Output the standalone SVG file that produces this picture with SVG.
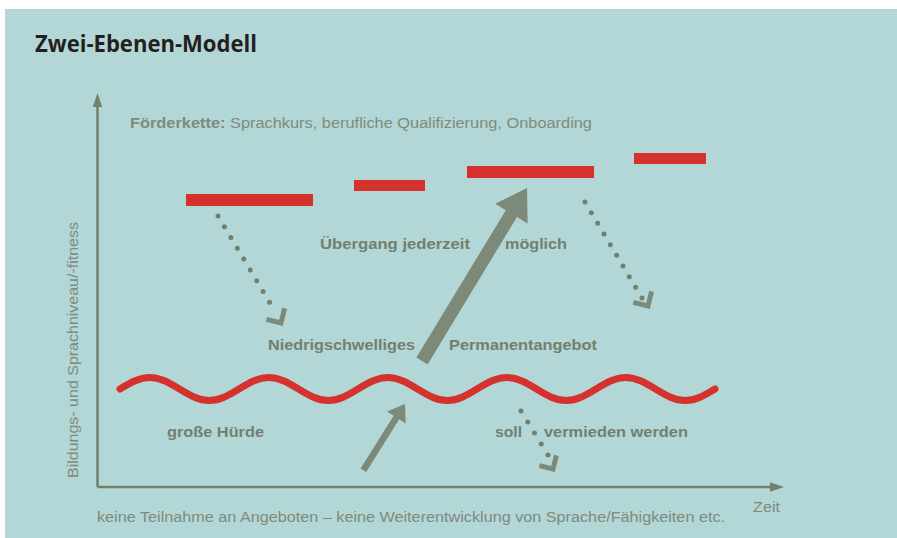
<svg xmlns="http://www.w3.org/2000/svg" width="897" height="538" viewBox="0 0 897 538">
<style>
.bg{fill:#b2d7d6}
.title{font-family:"Open Sans","Liberation Sans",sans-serif;font-weight:700;font-size:23px;fill:#231f20}
.lbl{font-family:"Liberation Sans",Arial,sans-serif;font-weight:700;font-size:15px;fill:#737f6e}
.reg{font-family:"Liberation Sans",Arial,sans-serif;font-size:14px;fill:#7e8b7c}
.bar{fill:#d6322d}
.wave{fill:none;stroke:#d6322d;stroke-width:7;stroke-linecap:round}
.axis{stroke:#72806c;stroke-width:2.5;fill:none}
.axhead{fill:#72806c}
.big{fill:#7d8a7a}
.dots{fill:none;stroke:#72806c;stroke-width:5;stroke-linecap:round}
.chev{fill:none;stroke:#7d8a7a;stroke-width:5;stroke-linejoin:miter;stroke-linecap:butt}
</style>
<rect class="bg" x="5" y="9" width="892" height="529"/>
<text class="title" x="35" y="52" textLength="222" lengthAdjust="spacingAndGlyphs">Zwei-Ebenen-Modell</text>

<g id="axes">
  <line class="axis" x1="97.5" y1="487" x2="97.5" y2="105"/>
  <polygon class="axhead" points="97.5,93 102.2,107 92.8,107"/>
  <line class="axis" x1="97.5" y1="487" x2="772" y2="487"/>
  <polygon class="axhead" points="784,487 770,482.3 770,491.7"/>
  <text class="reg" transform="translate(78,350) rotate(-90)" x="0" y="0" text-anchor="middle" font-size="12" textLength="256" lengthAdjust="spacingAndGlyphs">Bildungs- und Sprachniveau/-fitness</text>
  <text class="reg" x="753" y="512" textLength="27" lengthAdjust="spacingAndGlyphs">Zeit</text>
  <text class="reg" x="97" y="522" textLength="628" lengthAdjust="spacingAndGlyphs">keine Teilnahme an Angeboten – keine Weiterentwicklung von Sprache/Fähigkeiten etc.</text>
</g>

<g id="foerderkette">
  <text class="reg" x="130" y="128" textLength="462" lengthAdjust="spacingAndGlyphs"><tspan font-weight="700">Förderkette:</tspan> Sprachkurs, berufliche Qualifizierung, Onboarding</text>
  <rect class="bar" x="186" y="194" width="127" height="12"/>
  <rect class="bar" x="354" y="180" width="71" height="11"/>
  <rect class="bar" x="467" y="166" width="127" height="12"/>
  <rect class="bar" x="634" y="153" width="72" height="11"/>
</g>

<g id="uebergang">
  <text class="lbl" x="320" y="249" textLength="150" lengthAdjust="spacingAndGlyphs">Übergang jederzeit</text>
  <text class="lbl" x="505" y="249" textLength="62" lengthAdjust="spacingAndGlyphs">möglich</text>
</g>

<g id="permanentangebot">
  <text class="lbl" x="268" y="350" textLength="147" lengthAdjust="spacingAndGlyphs">Niedrigschwelliges</text>
  <text class="lbl" x="449" y="350" textLength="148" lengthAdjust="spacingAndGlyphs">Permanentangebot</text>
</g>

<g id="huerde">
  <path class="wave" d="M120,389 C129.7,383.11 138.98,377.5 149.75,377.5 S169.8,383.11 179.5,389 S198.48,400.5 209.25,400.5 S229.3,394.89 239,389 S257.98,377.5 268.75,377.5 S288.8,383.11 298.5,389 S317.48,400.5 328.25,400.5 S348.3,394.89 358,389 S376.98,377.5 387.75,377.5 S407.8,383.11 417.5,389 S436.48,400.5 447.25,400.5 S467.3,394.89 477,389 S495.98,377.5 506.75,377.5 S526.8,383.11 536.5,389 S555.48,400.5 566.25,400.5 S586.3,394.89 596,389 S614.98,377.5 625.75,377.5 S645.8,383.11 655.5,389 S674.48,400.5 685.25,400.5 S705.3,394.89 715,389"/>
  <text class="lbl" x="167" y="437" textLength="97" lengthAdjust="spacingAndGlyphs">große Hürde</text>
  <text class="lbl" x="495" y="437" textLength="27" lengthAdjust="spacingAndGlyphs">soll</text>
  <text class="lbl" x="544" y="437" textLength="144" lengthAdjust="spacingAndGlyphs">vermieden werden</text>
</g>

<g id="connectors">
  <polygon class="big" points="416.4,357.6 505.8,210.2 495.2,203.7 527,188 527.6,223.5 517,216.9 427.6,364.4"/>
  <polygon class="big" points="360.6,468.5 393.6,415.8 387.1,411.6 405,404 405.7,423.4 399.2,419.2 366.2,472"/>
  <line class="dots" x1="218" y1="216" x2="276" y2="313" stroke-dasharray="0 12.56"/>
  <polyline class="chev" points="266.4,319.4 281,323 284.6,308.4"/>
  <line class="dots" x1="585" y1="202" x2="642" y2="298" stroke-dasharray="0 12.4"/>
  <polyline class="chev" points="633.4,302.4 648,306 651.6,291.4"/>
  <line class="dots" x1="521" y1="411" x2="548" y2="455" stroke-dasharray="0 12.9"/>
  <polyline class="chev" points="539.4,465.6 553,469 556.4,455.4"/>
</g>
</svg>
